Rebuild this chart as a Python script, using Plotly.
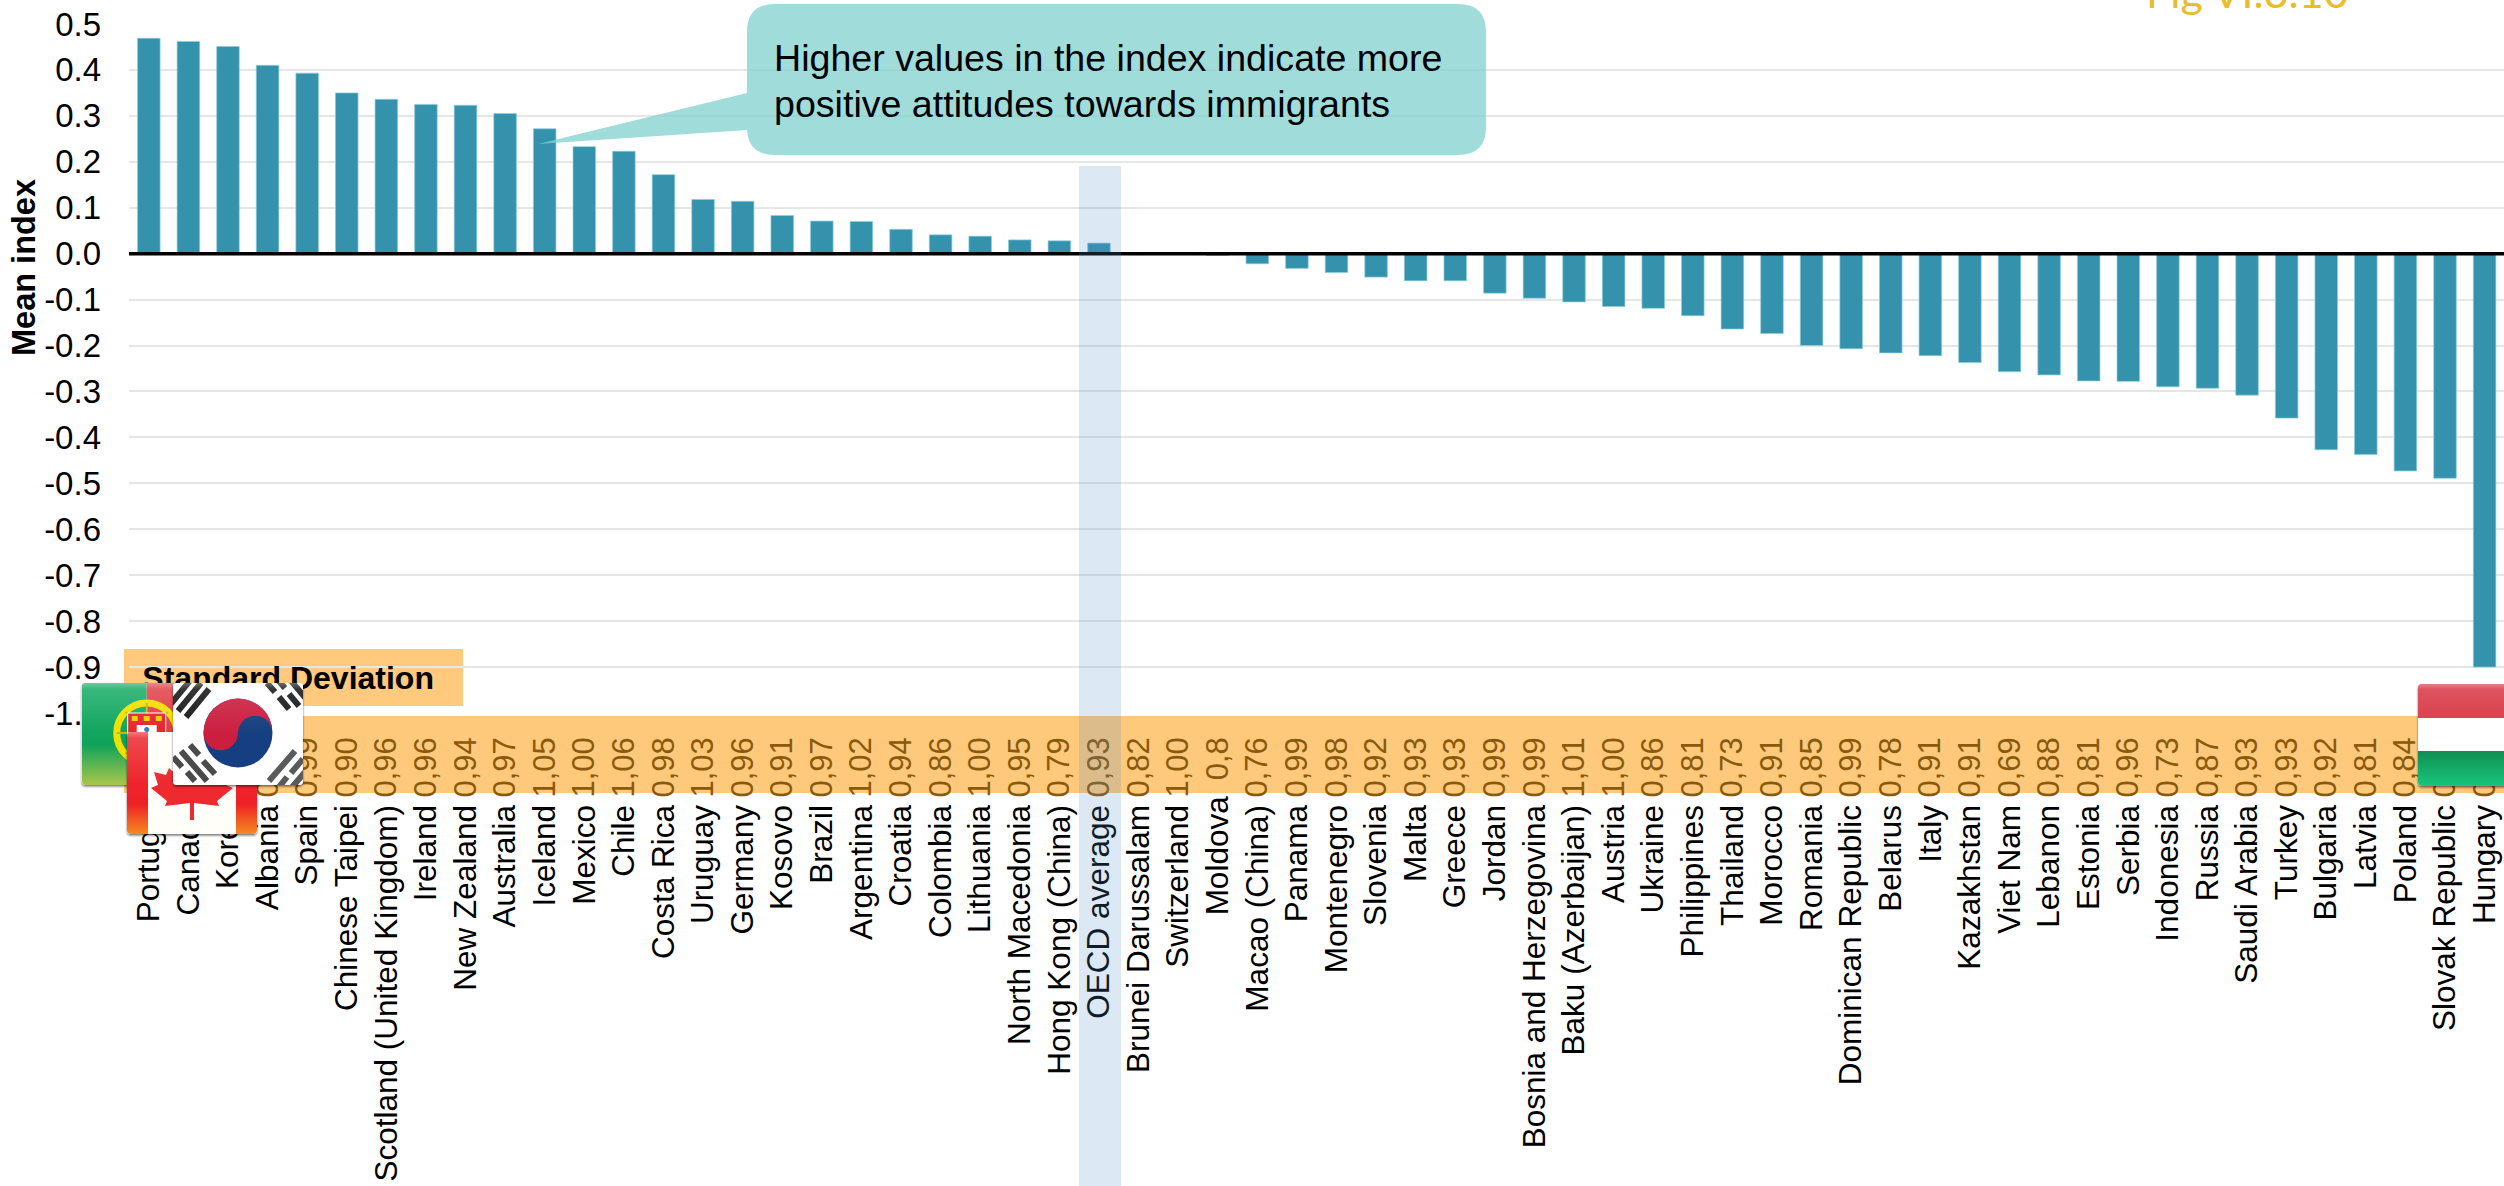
import base64
import plotly.graph_objects as go

WIDTH, HEIGHT = 2504, 1186
LEFT, TOP = 129, 24
PLOT_BOTTOM = 713

countries = [
    "Portugal", "Canada", "Korea", "Albania", "Spain", "Chinese Taipei",
    "Scotland (United Kingdom)", "Ireland", "New Zealand", "Australia",
    "Iceland", "Mexico", "Chile", "Costa Rica", "Uruguay", "Germany",
    "Kosovo", "Brazil", "Argentina", "Croatia", "Colombia", "Lithuania",
    "North Macedonia", "Hong Kong (China)", "OECD average", "Brunei Darussalam",
    "Switzerland", "Moldova", "Macao (China)", "Panama", "Montenegro",
    "Slovenia", "Malta", "Greece", "Jordan", "Bosnia and Herzegovina",
    "Baku (Azerbaijan)", "Austria", "Ukraine", "Philippines", "Thailand",
    "Morocco", "Romania", "Dominican Republic", "Belarus", "Italy",
    "Kazakhstan", "Viet Nam", "Lebanon", "Estonia", "Serbia", "Indonesia",
    "Russia", "Saudi Arabia", "Turkey", "Bulgaria", "Latvia", "Poland",
    "Slovak Republic", "Hungary",
]
mean_index = [
    0.469, 0.462, 0.451, 0.410, 0.393, 0.350, 0.336, 0.325, 0.323, 0.305,
    0.272, 0.233, 0.223, 0.172, 0.118, 0.114, 0.083, 0.071, 0.070, 0.053,
    0.041, 0.038, 0.030, 0.028, 0.023, 0.002, 0.001, -0.004, -0.022, -0.032,
    -0.041, -0.051, -0.059, -0.059, -0.086, -0.097, -0.105, -0.115, -0.119, -0.135,
    -0.164, -0.174, -0.200, -0.207, -0.216, -0.222, -0.237, -0.257, -0.264, -0.277,
    -0.278, -0.290, -0.293, -0.308, -0.358, -0.427, -0.437, -0.473, -0.489, -0.900,
]
std_dev = [
    "0,90", "0,93", "0,88", "0,92", "0,99", "0,90", "0,96", "0,96", "0,94", "0,97",
    "1,05", "1,00", "1,06", "0,98", "1,03", "0,96", "0,91", "0,97", "1,02", "0,94",
    "0,86", "1,00", "0,95", "0,79", "0,93", "0,82", "1,00", "0,8", "0,76", "0,99",
    "0,98", "0,92", "0,93", "0,93", "0,99", "0,99", "1,01", "1,00", "0,86", "0,81",
    "0,73", "0,91", "0,85", "0,99", "0,78", "0,91", "0,91", "0,69", "0,88", "0,81",
    "0,96", "0,73", "0,87", "0,93", "0,93", "0,92", "0,81", "0,84", "0,87", "0,93",
]
y_ticks = [0.5, 0.4, 0.3, 0.2, 0.1, 0.0, -0.1, -0.2, -0.3, -0.4, -0.5, -0.6, -0.7, -0.8, -0.9, -1.0]

positions = list(range(len(countries)))
FONT = "Liberation Sans"
BAR = "#3492ad"
SD_TEXT = "#8a5a0c"


def px(v):
    """Page x in pixels to paper fraction."""
    return (v - LEFT) / (WIDTH - LEFT)


def py(v):
    """Page y in pixels to paper fraction."""
    return (HEIGHT - v) / (HEIGHT - TOP)


def path_xy(x, y):
    return f"{px(x):.5f},{py(y):.5f}"


def callout_path():
    # Rounded box with a pointer running to the Iceland bar, as one closed outline.
    l, r, t, b, c = 747, 1486, 4, 155, 28
    return (
        f"M{path_xy(538, 144)} L{path_xy(l, 93)} L{path_xy(l, t + c)} "
        f"Q{path_xy(l, t)} {path_xy(l + c, t)} L{path_xy(r - c, t)} "
        f"Q{path_xy(r, t)} {path_xy(r, t + c)} L{path_xy(r, b - c)} "
        f"Q{path_xy(r, b)} {path_xy(r - c, b)} L{path_xy(l + c, b)} "
        f"Q{path_xy(l, b)} {path_xy(l, b - c)} L{path_xy(l, 130)} Z"
    )


GLOSS = """
<linearGradient id="gloss" x1="0" y1="0" x2="0" y2="1">
<stop offset="0" stop-color="#fff" stop-opacity=".35"/>
<stop offset=".06" stop-color="#fff" stop-opacity=".12"/>
<stop offset=".5" stop-color="#fff" stop-opacity="0"/>
</linearGradient>
<filter id="sh" x="-5%" y="-5%" width="110%" height="110%">
<feDropShadow dx="0" dy="1.5" stdDeviation="1.2" flood-color="#000" flood-opacity=".55"/>
</filter>
<clipPath id="card"><rect x="3" y="2" width="130" height="102" rx="4"/></clipPath>
"""


def flag_svg(defs, body):
    svg = (
        '<svg xmlns="http://www.w3.org/2000/svg" viewBox="0 0 136 108" width="136" height="108">'
        f"<defs>{GLOSS}{defs}</defs>"
        '<rect x="3" y="2" width="130" height="102" rx="4" fill="#fff" filter="url(#sh)"/>'
        f'<g clip-path="url(#card)"><g transform="translate(3,2)">{body}'
        '<rect width="130" height="102" fill="url(#gloss)"/></g></g></svg>'
    )
    return "data:image/svg+xml;base64," + base64.b64encode(svg.encode()).decode()


portugal = flag_svg(
    '<linearGradient id="g" x1="0" y1="0" x2="0" y2="1">'
    '<stop offset="0" stop-color="#1fb06c"/><stop offset=".6" stop-color="#0ea25a"/>'
    '<stop offset="1" stop-color="#a9c64a"/></linearGradient>'
    '<linearGradient id="r" x1="0" y1="0" x2="0" y2="1">'
    '<stop offset="0" stop-color="#e04a50"/><stop offset="1" stop-color="#e8273a"/></linearGradient>',
    '<rect width="65" height="102" fill="url(#g)"/>'
    '<rect x="65" width="65" height="102" fill="url(#r)"/>'
    '<circle cx="65" cy="50" r="30" fill="none" stroke="#f2e000" stroke-width="7"/>'
    '<path d="M35 50H95M65 20V80M44 29L86 71M86 29L44 71" stroke="#c9b800" stroke-width="2"/>'
    '<path d="M46 30H84V62Q65 84 46 62Z" fill="#e6262e" stroke="#fff" stroke-width="1"/>'
    '<rect x="50" y="33" width="6" height="5" fill="#f2d000"/>'
    '<rect x="62" y="33" width="6" height="5" fill="#f2d000"/>'
    '<rect x="74" y="33" width="6" height="5" fill="#f2d000"/>'
    '<rect x="55" y="42" width="20" height="9" fill="#fff"/>'
    '<circle cx="65" cy="46.5" r="2.5" fill="#2a7fc0"/>',
)
canada = flag_svg(
    '<linearGradient id="c" x1="0" y1="0" x2="0" y2="1">'
    '<stop offset="0" stop-color="#ee3038"/><stop offset=".7" stop-color="#ee2028"/>'
    '<stop offset="1" stop-color="#f58a1e"/></linearGradient>',
    '<rect width="130" height="102" fill="#fffef8"/>'
    '<rect width="21" height="102" fill="url(#c)"/>'
    '<rect x="109" width="21" height="102" fill="url(#c)"/>'
    '<path d="M65 18L72 30L79 26L76 47L88 36L91 43L103 40L99 53L106 56L90 69L92 74L67 71V88H63V71'
    'L38 74L40 69L24 56L31 53L27 40L39 43L42 36L54 47L51 26L58 30Z" fill="#ee2a30"/>',
)
korea = flag_svg(
    "",
    '<rect width="130" height="102" fill="#fff"/>'
    '<circle cx="65" cy="50" r="34.5" fill="#153f80"/>'
    '<path d="M30.5 50A34.5 34.5 0 0 1 99.5 50A17.25 17.25 0 0 0 65 50A17.25 17.25 0 0 1 30.5 50Z" fill="#cc1f40"/>'
    '<g stroke-width="6" fill="none">'
    '<path d="M-3 22L20 -6M5 28L28 0M13 34L36 6" stroke="#1a1a1a"/>'
    '<path d="M94 0L102 9M106 14L116 26M102 -6L112 5M116 11L126 23M110 -12L134 17" stroke="#1a1a1a"/>'
    '<path d="M0 74L9 84M14 89L22 98M8 68L34 98M17 62L26 72M30 78L42 91" stroke="#4a4a4a"/>'
    '<path d="M96 98L122 68M106 104L114 94M118 90L130 76M114 110L138 82" stroke="#5a5a5a"/>'
    "</g>",
)
hungary = flag_svg(
    '<linearGradient id="h" x1="0" y1="0" x2="0" y2="1">'
    '<stop offset="0" stop-color="#0f8f52"/><stop offset="1" stop-color="#18c67c"/></linearGradient>',
    '<rect width="130" height="34" fill="#d93a48"/>'
    '<rect y="34" width="130" height="33" fill="#fff"/>'
    '<rect y="67" width="130" height="35" fill="url(#h)"/>',
)


def flag_image(source, x, y):
    return dict(
        source=source, xref="paper", yref="paper", x=px(x - 3), y=py(y - 2),
        sizex=136 / (WIDTH - LEFT), sizey=108 / (HEIGHT - TOP),
        xanchor="left", yanchor="top", sizing="stretch", layer="above",
    )


fig = go.Figure()

fig.add_trace(go.Bar(
    x=positions, y=mean_index, width=0.57, xaxis="x", yaxis="y",
    marker=dict(color=BAR, line=dict(color="rgba(140,205,220,0.7)", width=1)),
    hovertext=countries, hoverinfo="text+y", showlegend=False,
))
# Carrier for the second category axis, whose tick labels list the standard deviations.
fig.add_trace(go.Scatter(
    x=positions, y=[0] * len(positions), xaxis="x2", yaxis="y", mode="markers",
    marker=dict(opacity=0, size=1), hoverinfo="skip", showlegend=False,
))
# Panel heading sits in the plot layer so that the flags can cover it.
fig.add_trace(go.Scatter(
    x=[3.52], y=[-0.93], xaxis="x", yaxis="y", mode="text",
    text=["<b>Standard Deviation</b>"], textposition="middle center",
    textfont=dict(family=FONT, size=32, color="#000"),
    cliponaxis=False, hoverinfo="skip", showlegend=False,
))

x_range = [-0.5, 59.49]
# Moldova's label sits slightly higher than the rest of the row.
x_labels = [c if c == "Moldova" else c + "\u00a0" for c in countries]

fig.update_layout(
    width=WIDTH, height=HEIGHT, autosize=False,
    margin=dict(l=LEFT, r=0, t=TOP, b=0, pad=0),
    paper_bgcolor="#fff", plot_bgcolor="#fff",
    font=dict(family=FONT, size=31, color="#000"),
    bargap=0.43,
    xaxis=dict(
        domain=[0, 1], range=x_range, anchor="free", position=py(789), automargin=False,
        tickmode="array", tickvals=positions, ticktext=x_labels, tickangle=-90,
        ticks="", showgrid=False, zeroline=False, showline=False,
        tickfont=dict(family=FONT, size=31.5, color="#000"),
    ),
    xaxis2=dict(
        domain=[0, 1], range=x_range, overlaying="x", anchor="free", position=py(730), automargin=False,
        side="bottom", tickmode="array", tickvals=positions, ticktext=std_dev,
        tickangle=-90, ticks="", showgrid=False, zeroline=False, showline=False,
        tickfont=dict(family=FONT, size=31, color=SD_TEXT),
    ),
    yaxis=dict(
        domain=[py(PLOT_BOTTOM), 1], range=[-1.0, 0.5], anchor="x", automargin=False,
        tickmode="array", tickvals=y_ticks, ticktext=[f"{v:.1f}" for v in y_ticks],
        ticks="", showline=False, zeroline=False, showgrid=True,
        gridcolor="#e6e6e6", gridwidth=2, ticklabelstandoff=27,
        tickfont=dict(family=FONT, size=33, color="#000"),
    ),
    shapes=[
        # Standard deviation heading and band
        dict(type="rect", xref="paper", yref="paper", x0=px(124), x1=px(463), y0=py(706), y1=py(649),
             fillcolor="rgba(255,196,112,0.9)", line_width=0, layer="between"),
        dict(type="rect", xref="paper", yref="paper", x0=px(124), x1=1, y0=py(793), y1=py(716),
             fillcolor="#ffc97c", line_width=0, layer="below"),
        # Zero baseline
        dict(type="line", xref="paper", yref="y", x0=0, x1=1, y0=0, y1=0,
             line=dict(color="#000", width=3.5), layer="above"),
        # OECD average column
        dict(type="rect", xref="paper", yref="paper", x0=px(1079), x1=px(1121), y0=py(1186), y1=py(166),
             fillcolor="rgba(80,140,200,0.2)", line_width=0, layer="above"),
        # Callout
        dict(type="path", xref="paper", yref="paper", path=callout_path(),
             fillcolor="rgba(128,208,205,0.75)", line_width=0, layer="above"),
    ],
    images=[
        flag_image(portugal, 81.7, 683),
        flag_image(canada, 127, 732),
        flag_image(korea, 173, 683),
        flag_image(hungary, 2418, 684),
    ],
    annotations=[
        dict(text="Higher values in the index indicate more", xref="paper", yref="paper",
             x=px(772), y=py(58), xanchor="left", yanchor="middle", showarrow=False,
             font=dict(family=FONT, size=37.6, color="#000")),
        dict(text="positive attitudes towards immigrants", xref="paper", yref="paper",
             x=px(772), y=py(104), xanchor="left", yanchor="middle", showarrow=False,
             font=dict(family=FONT, size=37.6, color="#000")),
        dict(text="<b>Mean index</b>", xref="paper", yref="paper",
             x=px(24), y=py(268), xanchor="center", yanchor="middle", textangle=-90,
             showarrow=False, font=dict(family=FONT, size=32.5, color="#000")),
        dict(text="Fig VI.3.10", xref="paper", yref="paper",
             x=px(2247), y=py(-8), xanchor="center", yanchor="middle", showarrow=False,
             font=dict(family="Lato", size=43, color="#e8bd2a")),
    ],
)

fig.write_html("out.html")
